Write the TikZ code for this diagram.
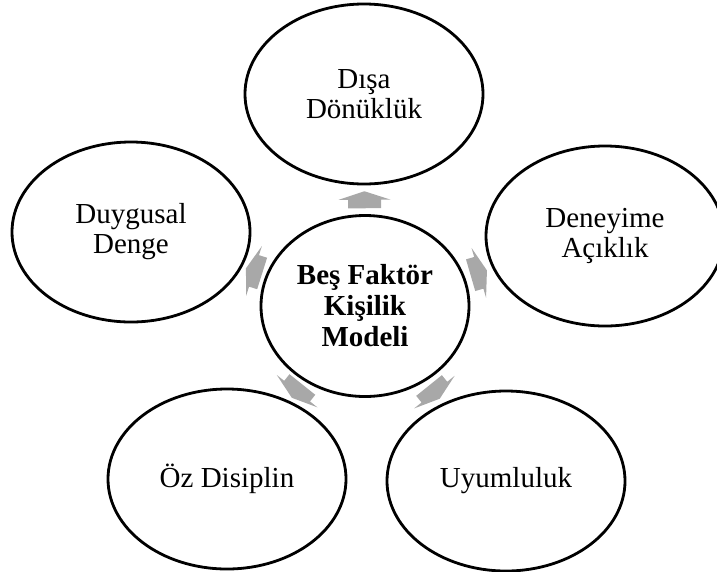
\documentclass[tikz,border=0pt]{standalone}
\usepackage{fontspec}
\setmainfont{Liberation Serif}
\usetikzlibrary{shapes.geometric}
\definecolor{arrowgray}{RGB}{168,168,168}
\begin{document}
\begin{tikzpicture}[x=1pt,y=-1pt,
  trait/.style={ellipse, draw, line width=2.8pt, minimum width=238pt,
    minimum height=180pt, inner sep=0pt, align=center,
    font=\fontsize{29}{30}\selectfont},
  core/.style={trait, minimum width=208pt, minimum height=181pt,
    font=\bfseries\fontsize{29}{31}\selectfont},
  outarrow/.pic={\fill[arrowgray] (-8.5,-16.5) -- (0,-16.5) -- (0,-26)
    -- (8.5,0) -- (0,26) -- (0,16.5) -- (-8.5,16.5) -- cycle;}
]
\useasboundingbox (0,0) rectangle (717,571);
% central model and the five traits around it
\node[core]  (model) at (365,306) {Beş Faktör\\Kişilik\\Modeli};
\node[trait] (disa)  at (364,94)  {Dışa\\Dönüklük};
\node[trait] (deney) at (605,236) {Deneyime\\Açıklık};
\node[trait] (uyum)  at (506,481) {Uyumluluk};
\node[trait] (oz)    at (227,479) {Öz Disiplin};
\node[trait] (duygu) at (131,232) {Duygusal\\Denge};
% block arrows pointing outward from the model
\foreach \t in {disa,deney,uyum,oz,duygu}
  \path (model) -- (\t) pic[pos=0.5, sloped, allow upside down] {outarrow};
\end{tikzpicture}
\end{document}
